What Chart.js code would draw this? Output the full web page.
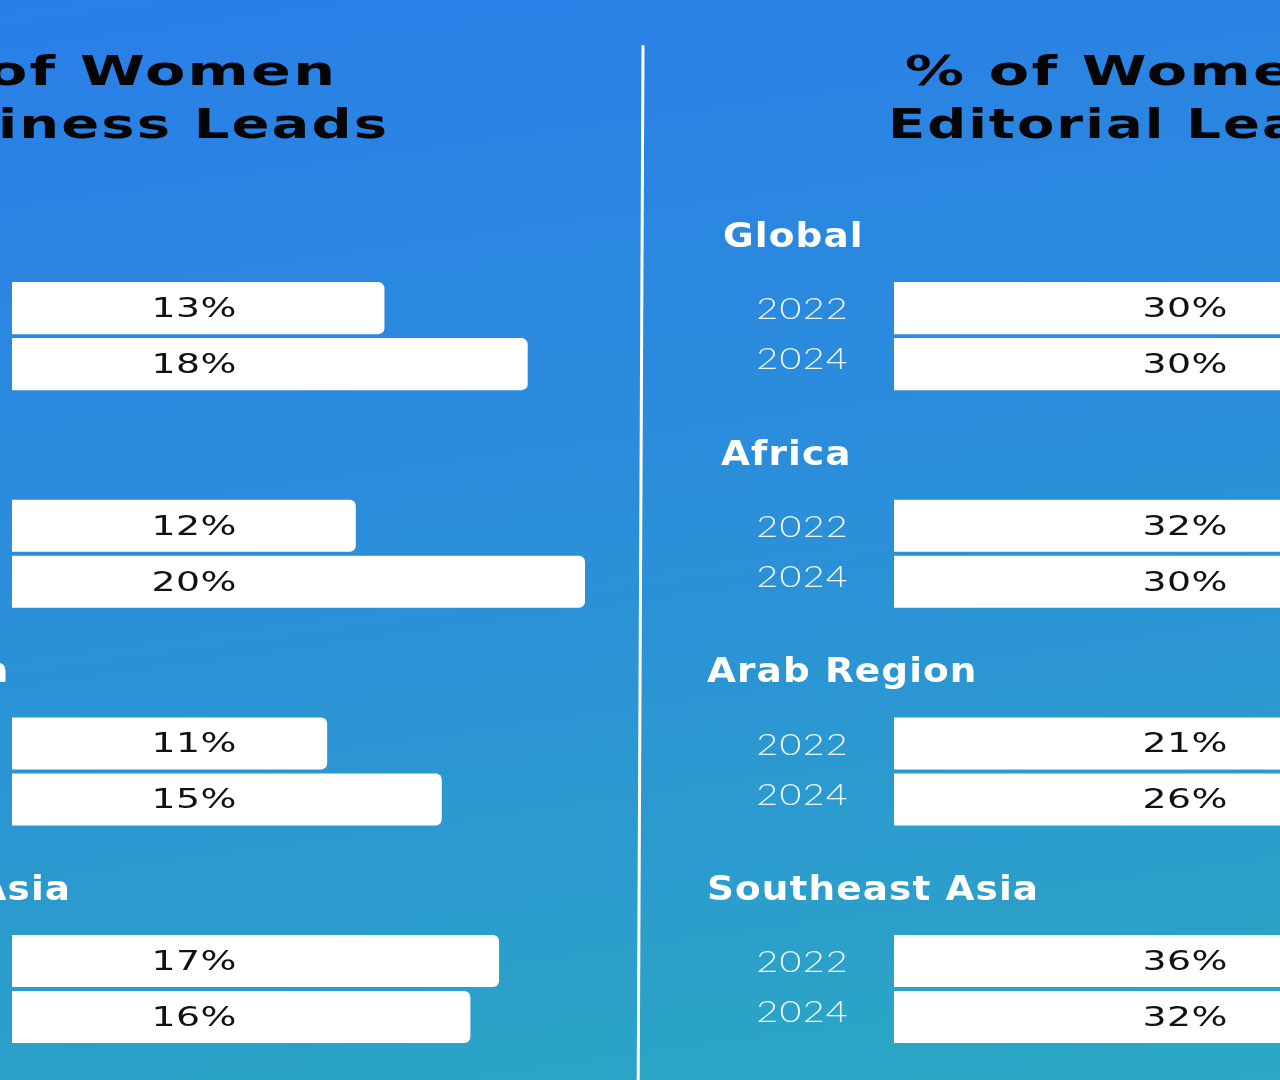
<!DOCTYPE html>
<html>
<head>
<meta charset="utf-8">
<script src="https://cdn.jsdelivr.net/npm/chart.js@4.4.1/dist/chart.umd.min.js"></script>
<style>
  html, body { margin: 0; padding: 0; width: 1280px; height: 1080px; overflow: hidden; }
  #stage {
    position: relative; width: 1280px; height: 1080px; overflow: hidden;
    background: linear-gradient(172deg, #2a7ee8 0%, #2b8fd9 50%, #2ba8c3 100%);
  }
  canvas { position: absolute; top: 0; }
  #business { left: -440px; }
  #editorial { left: 660px; }
</style>
</head>
<body>
<div id="stage">
  <canvas id="business" width="1100" height="1120"></canvas>
  <canvas id="editorial" width="1420" height="1120"></canvas>
</div>
<script>
// ---- data ----
const regions = ['Global', 'Africa', 'Arab Region', 'Southeast Asia'];
const years = ['2022', '2024'];
const business2022 = [13, 12, 11, 17];
const business2024 = [18, 20, 15, 16];
const editorial2022 = [30, 32, 21, 36];
const editorial2024 = [30, 30, 26, 32];
const businessTitle = ['% of Women', 'Business Leads'];
const editorialTitle = ['% of Women', 'Editorial Leads'];

// ---- text helper (wide, tracked type) ----
function drawText(ctx, text, x, y, font, color, align, sx, ls, baseline) {
  ctx.save();
  ctx.font = font;
  ctx.fillStyle = color;
  ctx.textBaseline = baseline || 'middle';
  ctx.textAlign = 'left';
  try { ctx.letterSpacing = ls + 'px'; } catch (e) {}
  ctx.translate(x, y);
  ctx.scale(sx, 1);
  const w = ctx.measureText(text).width - ls;
  const dx = align === 'center' ? -w / 2 : (align === 'right' ? -w : 0);
  ctx.fillText(text, dx, 0);
  ctx.restore();
}

const panelText = {
  id: 'panelText',
  afterDatasetsDraw(chart, args, o) {
    const ctx = chart.ctx;
    const area = chart.chartArea;
    const yScale = chart.scales.y;
    // title
    o.title.forEach((line, i) => {
      drawText(ctx, line, o.titleX[i], o.titleY[i], 'bold 40px "DejaVu Sans"', '#050505',
               o.titleAlign, o.titleScale[i], 1.5, 'alphabetic');
    });
    // region headings
    chart.data.labels.forEach((lab, j) => {
      const cy = yScale.getPixelForTick(j);
      drawText(ctx, lab, area.left + o.headingOffset + o.headingIndent[j], cy - 98,
               'bold 34px "DejaVu Sans"', '#ffffff', 'left', 1.1, 1);
    });
    // year labels + value labels
    chart.data.datasets.forEach((ds, i) => {
      const meta = chart.getDatasetMeta(i);
      meta.data.forEach((el, j) => {
        drawText(ctx, ds.label, area.left + o.yearOffset, el.y + o.yearDy[i],
                 '300 29px Lato', 'rgba(255,255,255,0.92)', 'center', 1.3, 1);
        drawText(ctx, ds.data[j] + '%', area.left + o.valueOffset, el.y + 2,
                 '27px "DejaVu Sans"', '#111111', 'center', 1.4, 0.3);
      });
    });
    // divider
    if (o.divider) {
      ctx.save();
      ctx.strokeStyle = '#ffffff';
      ctx.lineWidth = 3;
      ctx.beginPath();
      ctx.moveTo(o.divider[0], o.divider[1]);
      ctx.lineTo(o.divider[2], o.divider[3]);
      ctx.stroke();
      ctx.restore();
    }
  }
};

function makeChart(id, d2022, d2024, maxX, padding, textOpts) {
  const barStyle = {
    backgroundColor: '#ffffff',
    borderWidth: 0,
    borderRadius: 6,
    categoryPercentage: 0.5146,
    barPercentage: 0.9286
  };
  return new Chart(document.getElementById(id), {
    type: 'bar',
    data: {
      labels: regions,
      datasets: [
        Object.assign({ label: years[0], data: d2022 }, barStyle),
        Object.assign({ label: years[1], data: d2024 }, barStyle)
      ]
    },
    options: {
      indexAxis: 'y',
      responsive: false,
      animation: false,
      layout: { padding: padding },
      scales: {
        x: { type: 'linear', min: 0, max: maxX, display: false },
        y: { type: 'category', display: false }
      },
      plugins: {
        legend: { display: false },
        tooltip: { enabled: false },
        colors: { enabled: false },
        panelText: textOpts
      }
    },
    plugins: [panelText]
  });
}

makeChart('business', business2022, business2024, 21,
  { left: 452, right: 46.35, top: 227.3, bottom: 22.1 },
  {
    title: businessTitle,
    titleX: [775, 827], titleY: [85, 138], titleAlign: 'right', titleScale: [1.47, 1.4],
    headingOffset: -273, headingIndent: [16, 14, 0, 0],
    yearOffset: -92, yearDy: [2, -4],
    valueOffset: 182,
    divider: [1083, 45, 1078, 1120]
  });

makeChart('editorial', editorial2022, editorial2024, 40,
  { left: 234, right: 40, top: 227.3, bottom: 22.1 },
  {
    title: editorialTitle,
    titleX: [245, 228], titleY: [85, 138], titleAlign: 'left', titleScale: [1.47, 1.36],
    headingOffset: -187, headingIndent: [16, 14, 0, 0],
    yearOffset: -92, yearDy: [2, -4],
    valueOffset: 291,
    divider: null
  });
</script>
</body>
</html>
